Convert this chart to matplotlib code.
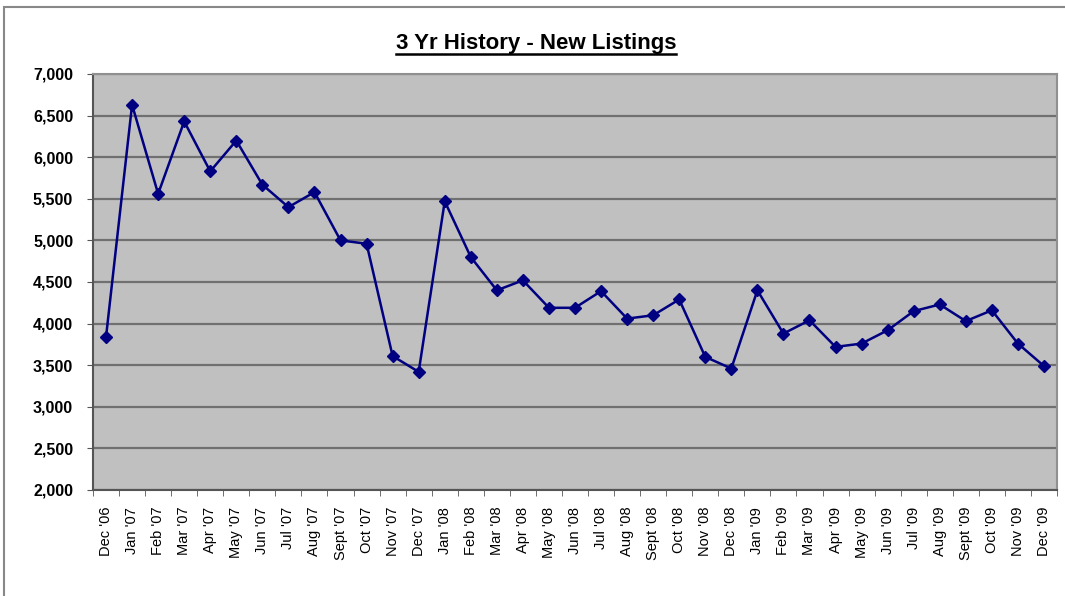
import matplotlib
matplotlib.use("Agg")
import matplotlib.pyplot as plt
from matplotlib.lines import Line2D
from matplotlib.patches import Rectangle
from matplotlib.ticker import FuncFormatter, FixedLocator

plt.rcParams['font.family'] = ['Liberation Sans', 'DejaVu Sans']

months = ["Dec '06", "Jan '07", "Feb '07", "Mar '07", "Apr '07", "May '07", "Jun '07",
          "Jul '07", "Aug '07", "Sept '07", "Oct '07", "Nov '07", "Dec '07",
          "Jan '08", "Feb '08", "Mar '08", "Apr '08", "May '08", "Jun '08",
          "Jul '08", "Aug '08", "Sept '08", "Oct '08", "Nov '08", "Dec '08",
          "Jan '09", "Feb '09", "Mar '09", "Apr '09", "May '09", "Jun '09",
          "Jul '09", "Aug '09", "Sept '09", "Oct '09", "Nov '09", "Dec '09"]

new_listings = [3840, 6630, 5560, 6430, 5830, 6200, 5670,
                5400, 5580, 5000, 4960, 3610, 3420,
                5470, 4800, 4400, 4520, 4190, 4190,
                4390, 4060, 4100, 4290, 3600, 3460,
                4400, 3880, 4040, 3720, 3760, 3920,
                4150, 4230, 4030, 4160, 3760, 3490]

fig = plt.figure(figsize=(10.65, 5.96), dpi=100)

# outer chart frame
fig.patches.append(Rectangle((4 / 1065, -0.05), 1.2, 1 - 7 / 596 + 0.05,
                             transform=fig.transFigure, fill=False,
                             edgecolor='#888888', linewidth=1.5))

ax = fig.add_axes([93 / 1065, 1 - 490 / 596, 964 / 1065, 416 / 596])
ax.set_facecolor('#c0c0c0')

x = list(range(len(months)))
ax.plot(x, new_listings, color='#000080', linewidth=1.8, marker='D',
        markersize=6.5, markerfacecolor='#000080', markeredgecolor='#000080', zorder=3)

ax.set_xlim(-0.5, len(months) - 0.5)
ax.set_ylim(2000, 7000)
ax.set_yticks(range(2000, 7001, 500))
ax.yaxis.set_major_formatter(FuncFormatter(lambda v, p: '{:,.0f}'.format(v)))
ax.grid(axis='y', color='#707070', linewidth=1.6)
ax.set_axisbelow(True)

# categories sit between the tick marks
ax.set_xticks(x)
ax.set_xticklabels(months, rotation=90, fontsize=10.5)
ax.xaxis.set_minor_locator(FixedLocator([i - 0.5 for i in range(len(months) + 1)]))
ax.tick_params(axis='x', which='major', length=0, pad=12)
ax.tick_params(axis='x', which='minor', length=4, color='#555555', direction='out')
ax.tick_params(axis='y', length=4.3, color='#555555', labelsize=11.5, pad=10)
for lbl in ax.get_yticklabels():
    lbl.set_fontweight('bold')

for side in ['top', 'right']:
    ax.spines[side].set_color('#909090')
    ax.spines[side].set_linewidth(1.5)
for side in ['left', 'bottom']:
    ax.spines[side].set_color('#555555')
    ax.spines[side].set_linewidth(1.5)

# underlined title
title = fig.text(536 / 1065, 1 - 43 / 596, '3 Yr History - New Listings',
                 ha='center', va='center', fontsize=16, fontweight='bold')
fig.canvas.draw()
bb = title.get_window_extent().transformed(fig.transFigure.inverted())
fig.lines.append(Line2D([bb.x0, bb.x1], [bb.y0 - 0.001, bb.y0 - 0.001],
                        transform=fig.transFigure, color='black', linewidth=1.8))

fig.savefig('out.png', dpi=100)
